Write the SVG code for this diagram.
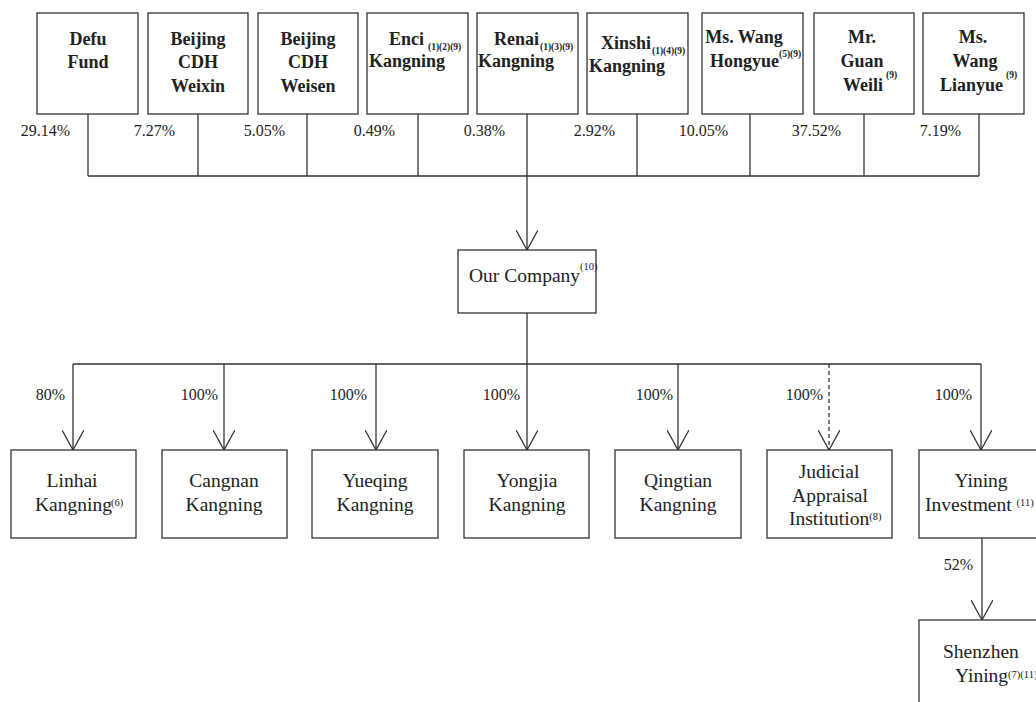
<svg xmlns="http://www.w3.org/2000/svg" width="1036" height="702" viewBox="0 0 1036 702">
<style>
.box{fill:#fff;stroke:#333;stroke-width:1.3}
.ln{fill:none;stroke:#333;stroke-width:1.3}
.dash{stroke-dasharray:4 3}
text{font-family:"Liberation Serif","Times New Roman",serif;fill:#222}
.b{font-weight:bold;font-size:18px}
.n{font-size:19.5px}
.p{font-size:16px;text-anchor:end}
.c{text-anchor:middle}
.sb{font-weight:bold;font-size:9.5px}
.sn{font-size:10.5px}
</style>
<defs>
<marker id="ah" viewBox="0 0 20 22" refX="20" refY="11" markerWidth="20" markerHeight="22" markerUnits="userSpaceOnUse" orient="auto">
<path d="M0,0 L20,11 L0,22" fill="none" stroke="#333" stroke-width="1.3" stroke-dasharray="none"/>
</marker>
</defs>
<rect width="1036" height="702" fill="#fff"/>
<g id="connectors">
<path class="ln" d="M88,114 V176 M198,114 V176 M307,114 V176 M418,114 V176 M527,114 V176 M637,114 V176 M750,114 V176 M864,114 V176 M979,114 V176 M88,176 H979"/>
<path class="ln" d="M527,176 V250" marker-end="url(#ah)"/>
<path class="ln" d="M527,313 V364 M73,364 H981"/>
<path class="ln" d="M73,364 V450" marker-end="url(#ah)"/>
<path class="ln" d="M224,364 V450" marker-end="url(#ah)"/>
<path class="ln" d="M376,364 V450" marker-end="url(#ah)"/>
<path class="ln" d="M527,364 V450" marker-end="url(#ah)"/>
<path class="ln" d="M678,364 V450" marker-end="url(#ah)"/>
<path class="ln dash" d="M829,364 V450" marker-end="url(#ah)"/>
<path class="ln" d="M981,364 V450" marker-end="url(#ah)"/>
<path class="ln" d="M982,538 V620" marker-end="url(#ah)"/>
<text class="p" x="70" y="136">29.14%</text>
<text class="p" x="175" y="136">7.27%</text>
<text class="p" x="285" y="136">5.05%</text>
<text class="p" x="395" y="136">0.49%</text>
<text class="p" x="505" y="136">0.38%</text>
<text class="p" x="615" y="136">2.92%</text>
<text class="p" x="728" y="136">10.05%</text>
<text class="p" x="841" y="136">37.52%</text>
<text class="p" x="961" y="136">7.19%</text>
<text class="p" x="65" y="400">80%</text>
<text class="p" x="218" y="400">100%</text>
<text class="p" x="367" y="400">100%</text>
<text class="p" x="520" y="400">100%</text>
<text class="p" x="673" y="400">100%</text>
<text class="p" x="823" y="400">100%</text>
<text class="p" x="972" y="400">100%</text>
<text class="p" x="973" y="570">52%</text>
</g>
<g id="defu">
<rect class="box" x="37" y="13" width="101" height="101"/>
<text class="b c" x="88" y="45">Defu</text>
<text class="b c" x="88" y="68">Fund</text>
</g>
<g id="weixin">
<rect class="box" x="148" y="13" width="100" height="101"/>
<text class="b c" x="198" y="45">Beijing</text>
<text class="b c" x="198" y="68">CDH</text>
<text class="b c" x="198" y="92">Weixin</text>
</g>
<g id="weisen">
<rect class="box" x="258" y="13" width="100" height="101"/>
<text class="b c" x="308" y="45">Beijing</text>
<text class="b c" x="308" y="68">CDH</text>
<text class="b c" x="308" y="92">Weisen</text>
</g>
<g id="enci">
<rect class="box" x="367" y="13" width="101" height="101"/>
<text class="b" x="389" y="45">Enci<tspan class="sb" x="428" dy="5">(1)(2)(9)</tspan></text>
<text class="b" x="369" y="67">Kangning</text>
</g>
<g id="renai">
<rect class="box" x="477" y="13" width="101" height="101"/>
<text class="b" x="494" y="45">Renai<tspan class="sb" x="540" dy="5">(1)(3)(9)</tspan></text>
<text class="b" x="478" y="67">Kangning</text>
</g>
<g id="xinshi">
<rect class="box" x="587" y="13" width="101" height="101"/>
<text class="b" x="601" y="49">Xinshi<tspan class="sb" x="652" dy="5">(1)(4)(9)</tspan></text>
<text class="b" x="589" y="72">Kangning</text>
</g>
<g id="hongyue">
<rect class="box" x="702" y="13" width="101" height="101"/>
<text class="b c" x="744" y="43">Ms. Wang</text>
<text class="b" x="710" y="67">Hongyue<tspan class="sb" x="779" dy="-10">(5)(9)</tspan></text>
</g>
<g id="guan">
<rect class="box" x="814" y="13" width="100" height="101"/>
<text class="b c" x="862" y="43">Mr.</text>
<text class="b c" x="862" y="67">Guan</text>
<text class="b" x="843" y="91">Weili<tspan class="sb" x="886" dy="-13">(9)</tspan></text>
</g>
<g id="lianyue">
<rect class="box" x="923" y="13" width="101" height="101"/>
<text class="b c" x="973" y="43">Ms.</text>
<text class="b c" x="975" y="67">Wang</text>
<text class="b" x="940" y="91">Lianyue<tspan class="sb" x="1006" dy="-13">(9)</tspan></text>
</g>
<g id="company">
<rect class="box" x="458" y="250" width="138" height="63"/>
<text class="n" x="469" y="282">Our Company<tspan class="sn" font-size="10px" dy="-12">(10)</tspan></text>
</g>
<g id="linhai">
<rect class="box" x="11" y="450" width="125" height="88"/>
<text class="n c" x="72" y="487">Linhai</text>
<text class="n" x="35" y="511">Kangning<tspan class="sn" x="111" dy="-5">(6)</tspan></text>
</g>
<g id="cangnan">
<rect class="box" x="162" y="450" width="125" height="88"/>
<text class="n c" x="224" y="487">Cangnan</text>
<text class="n c" x="224" y="511">Kangning</text>
</g>
<g id="yueqing">
<rect class="box" x="312" y="450" width="126" height="88"/>
<text class="n c" x="375" y="487">Yueqing</text>
<text class="n c" x="375" y="511">Kangning</text>
</g>
<g id="yongjia">
<rect class="box" x="464" y="450" width="125" height="88"/>
<text class="n c" x="527" y="487">Yongjia</text>
<text class="n c" x="527" y="511">Kangning</text>
</g>
<g id="qingtian">
<rect class="box" x="615" y="450" width="126" height="88"/>
<text class="n c" x="678" y="487">Qingtian</text>
<text class="n c" x="678" y="511">Kangning</text>
</g>
<g id="judicial">
<rect class="box" x="767" y="450" width="125" height="88"/>
<text class="n c" x="829" y="478">Judicial</text>
<text class="n c" x="830" y="502">Appraisal</text>
<text class="n" x="789" y="525">Institution<tspan class="sn" dy="-5">(8)</tspan></text>
</g>
<g id="yining">
<rect class="box" x="919" y="450" width="125" height="88"/>
<text class="n c" x="981" y="487">Yining</text>
<text class="n" x="925" y="511">Investment <tspan class="sn" dy="-5">(11)</tspan></text>
</g>
<g id="shenzhen">
<rect class="box" x="919" y="620" width="125" height="88"/>
<text class="n" x="943" y="658">Shenzhen</text>
<text class="n" x="955" y="682">Yining<tspan class="sn" font-size="9.5px" dy="-4">(7)(11)</tspan></text>
</g>
</svg>
